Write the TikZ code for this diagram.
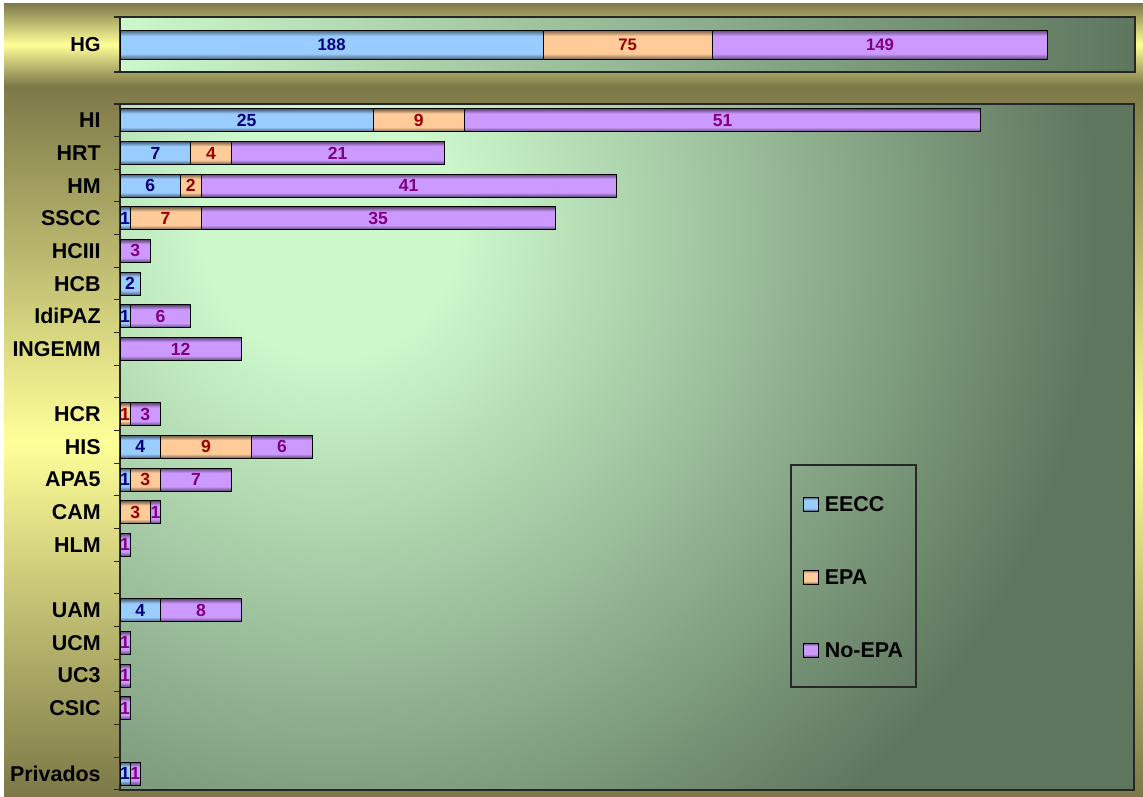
\documentclass[tikz,border=0pt]{standalone}
\usepackage{fontspec}
\setmainfont{Liberation Sans}
\usetikzlibrary{positioning}

\definecolor{chartolive}{HTML}{7C7848}
\definecolor{chartyellow}{HTML}{FFFF99}
\definecolor{plotlight}{HTML}{CCF8CC}
\definecolor{plotdark}{HTML}{5E765E}
\definecolor{eeblue}{HTML}{99CCFF}
\definecolor{epaorange}{HTML}{FFCC99}
\definecolor{nopurple}{HTML}{CC99FF}
\definecolor{eetext}{HTML}{000080}
\definecolor{epatext}{HTML}{990000}
\definecolor{notext}{HTML}{800080}

\pgfdeclareradialshading{plotglow}{\pgfpoint{0bp}{0bp}}{color(0bp)=(plotlight); color(2bp)=(plotlight); color(12bp)=(plotdark); color(50bp)=(plotdark)}
\pgfdeclareverticalshading[barmid,baredge]{barshade}{100bp}{color(0bp)=(baredge); color(25bp)=(baredge); color(35bp)=(barmid); color(65bp)=(barmid); color(75bp)=(baredge); color(100bp)=(baredge)}

\tikzset{
  frame/.style={draw=black!85, line width=0.6pt},
  tick/.style={draw=black!85, line width=0.6pt},
  lab/.style={inner sep=0pt, font=\fontsize{12.2}{14}\selectfont\bfseries},
  legtxt/.style={inner sep=0pt, font=\fontsize{12.2}{14}\selectfont\bfseries},
  eeseg/.style={draw=black, line width=0.5pt, shade, shading=barshade,
    /utils/exec={\colorlet{barmid}{eeblue}\colorlet{baredge}{eeblue!45!black}}},
  epaseg/.style={draw=black, line width=0.5pt, shade, shading=barshade,
    /utils/exec={\colorlet{barmid}{epaorange}\colorlet{baredge}{epaorange!45!black}}},
  noseg/.style={draw=black, line width=0.5pt, shade, shading=barshade,
    /utils/exec={\colorlet{barmid}{nopurple}\colorlet{baredge}{nopurple!45!black}}},
  num/.style={inner sep=0pt, font=\fontsize{10}{12}\selectfont\bfseries},
  topnum/.style={font=\fontsize{9.5}{11}\selectfont\bfseries},
  eenum/.style={num, text=eetext},
  epanum/.style={num, text=epatext},
  nonum/.style={num, text=notext}
}

\begin{document}
\begin{tikzpicture}[x=0.02cm,y=-0.02cm]
\useasboundingbox (0,0) rectangle (1143,796);

% chart backgrounds
\shade[top color=chartolive, bottom color=chartolive, middle color=chartyellow] (4,3) rectangle (1143,86);
\shade[top color=chartolive, bottom color=chartolive, middle color=chartyellow] (4,86) rectangle (1143,796);

% plot areas
\shade[left color=plotlight, right color=plotdark, middle color=plotlight!50!plotdark] (120,17) rectangle (1135,72);
\draw[frame] (120,17) rectangle (1135,72);
\begin{scope}
  \clip (120,104) rectangle (1134,790);
  \shade[shading=plotglow] (330,230) circle (32cm);
\end{scope}
\draw[frame] (120,104) rectangle (1134,790);

% HG
\begin{scope}[xshift=2.4cm, x=0.04505cm]
  \draw[tick] (0,17) -- ++(-0.12cm,0);
  \draw[tick] (0,72) -- ++(-0.12cm,0);
  \node[lab, left=0.38cm, font=\fontsize{11.5}{13}\selectfont\bfseries] (hg) at (0,44.5) {HG};
  \draw[eeseg] (0,30) rectangle (188,59.5) node[midway, eenum, topnum] (hg-ee) {188};
  \draw[epaseg] (188,30) rectangle (263,59.5) node[midway, epanum, topnum] (hg-epa) {75};
  \draw[noseg] (263,30) rectangle (412,59.5) node[midway, nonum, topnum] (hg-no) {149};
\end{scope}

% centros
\begin{scope}[xshift=2.4cm, yshift=-2.08cm, x=0.2026cm, y=-0.65333cm]
  \foreach \t in {0,...,21}
    \draw[tick] (0,\t) -- ++(-0.12cm,0);

  \node[lab, left=0.38cm] (hi) at (0,0.5) {HI};
  \node[lab, left=0.38cm] (hrt) at (0,1.5) {HRT};
  \node[lab, left=0.38cm] (hm) at (0,2.5) {HM};
  \node[lab, left=0.38cm] (sscc) at (0,3.5) {SSCC};
  \node[lab, left=0.38cm] (hciii) at (0,4.5) {HCIII};
  \node[lab, left=0.38cm] (hcb) at (0,5.5) {HCB};
  \node[lab, left=0.38cm] (idipaz) at (0,6.5) {IdiPAZ};
  \node[lab, left=0.38cm] (ingemm) at (0,7.5) {INGEMM};
  \node[lab, left=0.38cm] (hcr) at (0,9.5) {HCR};
  \node[lab, left=0.38cm] (his) at (0,10.5) {HIS};
  \node[lab, left=0.38cm] (apa5) at (0,11.5) {APA5};
  \node[lab, left=0.38cm] (cam) at (0,12.5) {CAM};
  \node[lab, left=0.38cm] (hlm) at (0,13.5) {HLM};
  \node[lab, left=0.38cm] (uam) at (0,15.5) {UAM};
  \node[lab, left=0.38cm] (ucm) at (0,16.5) {UCM};
  \node[lab, left=0.38cm] (uc3) at (0,17.5) {UC3};
  \node[lab, left=0.38cm] (csic) at (0,18.5) {CSIC};
  \node[lab, left=0.38cm] (priv) at (0,20.5) {Privados};

  \draw[eeseg] (0,0.15) rectangle (25,0.85) node[midway, eenum] (hi-ee) {25};
  \draw[epaseg] (25,0.15) rectangle (34,0.85) node[midway, epanum] (hi-epa) {9};
  \draw[noseg] (34,0.15) rectangle (85,0.85) node[midway, nonum] (hi-no) {51};

  \draw[eeseg] (0,1.15) rectangle (7,1.85) node[midway, eenum] (hrt-ee) {7};
  \draw[epaseg] (7,1.15) rectangle (11,1.85) node[midway, epanum] (hrt-epa) {4};
  \draw[noseg] (11,1.15) rectangle (32,1.85) node[midway, nonum] (hrt-no) {21};

  \draw[eeseg] (0,2.15) rectangle (6,2.85) node[midway, eenum] (hm-ee) {6};
  \draw[epaseg] (6,2.15) rectangle (8,2.85) node[midway, epanum] (hm-epa) {2};
  \draw[noseg] (8,2.15) rectangle (49,2.85) node[midway, nonum] (hm-no) {41};

  \draw[eeseg] (0,3.15) rectangle (1,3.85) node[midway, eenum] (sscc-ee) {1};
  \draw[epaseg] (1,3.15) rectangle (8,3.85) node[midway, epanum] (sscc-epa) {7};
  \draw[noseg] (8,3.15) rectangle (43,3.85) node[midway, nonum] (sscc-no) {35};

  \draw[noseg] (0,4.15) rectangle (3,4.85) node[midway, nonum] (hciii-no) {3};

  \draw[eeseg] (0,5.15) rectangle (2,5.85) node[midway, eenum] (hcb-ee) {2};

  \draw[eeseg] (0,6.15) rectangle (1,6.85) node[midway, eenum] (idipaz-ee) {1};
  \draw[noseg] (1,6.15) rectangle (7,6.85) node[midway, nonum] (idipaz-no) {6};

  \draw[noseg] (0,7.15) rectangle (12,7.85) node[midway, nonum] (ingemm-no) {12};

  \draw[epaseg] (0,9.15) rectangle (1,9.85) node[midway, epanum] (hcr-epa) {1};
  \draw[noseg] (1,9.15) rectangle (4,9.85) node[midway, nonum] (hcr-no) {3};

  \draw[eeseg] (0,10.15) rectangle (4,10.85) node[midway, eenum] (his-ee) {4};
  \draw[epaseg] (4,10.15) rectangle (13,10.85) node[midway, epanum] (his-epa) {9};
  \draw[noseg] (13,10.15) rectangle (19,10.85) node[midway, nonum] (his-no) {6};

  \draw[eeseg] (0,11.15) rectangle (1,11.85) node[midway, eenum] (apa5-ee) {1};
  \draw[epaseg] (1,11.15) rectangle (4,11.85) node[midway, epanum] (apa5-epa) {3};
  \draw[noseg] (4,11.15) rectangle (11,11.85) node[midway, nonum] (apa5-no) {7};

  \draw[epaseg] (0,12.15) rectangle (3,12.85) node[midway, epanum] (cam-epa) {3};
  \draw[noseg] (3,12.15) rectangle (4,12.85) node[midway, nonum] (cam-no) {1};

  \draw[noseg] (0,13.15) rectangle (1,13.85) node[midway, nonum] (hlm-no) {1};

  \draw[eeseg] (0,15.15) rectangle (4,15.85) node[midway, eenum] (uam-ee) {4};
  \draw[noseg] (4,15.15) rectangle (12,15.85) node[midway, nonum] (uam-no) {8};

  \draw[noseg] (0,16.15) rectangle (1,16.85) node[midway, nonum] (ucm-no) {1};
  \draw[noseg] (0,17.15) rectangle (1,17.85) node[midway, nonum] (uc3-no) {1};
  \draw[noseg] (0,18.15) rectangle (1,18.85) node[midway, nonum] (csic-no) {1};

  \draw[eeseg] (0,20.15) rectangle (1,20.85) node[midway, eenum] (priv-ee) {1};
  \draw[noseg] (1,20.15) rectangle (2,20.85) node[midway, nonum] (priv-no) {1};
\end{scope}

% leyenda
\draw[frame] (791,465) rectangle (916,687);
\draw[eeseg] (803,497) rectangle (818,511);
\node[legtxt, right=0.13cm] (leg-ee) at (818,504) {EECC};
\draw[epaseg] (803,570) rectangle (818,584);
\node[legtxt, right=0.13cm] (leg-epa) at (818,577) {EPA};
\draw[noseg] (803,643) rectangle (818,657);
\node[legtxt, right=0.13cm] (leg-no) at (818,650) {No-EPA};

\end{tikzpicture}
\end{document}
